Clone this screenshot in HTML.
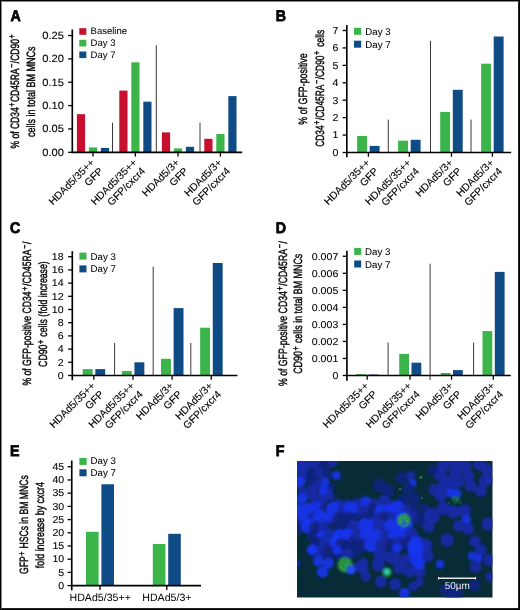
<!DOCTYPE html>
<html><head><meta charset="utf-8"><style>
html,body{margin:0;padding:0;background:#fff;}
body{width:520px;height:610px;position:relative;overflow:hidden;font-family:"Liberation Sans", sans-serif;}
.frame{position:absolute;left:0;top:0;width:518px;height:608px;border:1px solid #000;}
.frame2{position:absolute;left:1px;top:1px;width:516px;height:606px;border-style:solid;border-width:1px;border-color:#888 #222 #222 #888;}
</style></head><body>
<svg width="520" height="610" viewBox="0 0 520 610" style="position:absolute;left:0;top:0;will-change:transform"><g font-family='"Liberation Sans", sans-serif' fill="#000" text-rendering="geometricPrecision"><g transform="translate(10.40,20.75) scale(0.92,1)"><text x="0.00" y="0.00" font-size="15.5" font-weight="bold" stroke="#000" stroke-width="0.75">A</text></g><line x1="72.30" y1="29.50" x2="72.30" y2="153.05" stroke="#000" stroke-width="1.65"/><line x1="68.10" y1="152.30" x2="72.30" y2="152.30" stroke="#000" stroke-width="1.3"/><text x="63.90" y="155.80" font-size="10.5" text-anchor="end" textLength="21.66" lengthAdjust="spacingAndGlyphs" stroke="#000" stroke-width="0.1">0.00</text><line x1="68.10" y1="128.94" x2="72.30" y2="128.94" stroke="#000" stroke-width="1.3"/><text x="63.90" y="132.44" font-size="10.5" text-anchor="end" textLength="21.66" lengthAdjust="spacingAndGlyphs" stroke="#000" stroke-width="0.1">0.05</text><line x1="68.10" y1="105.58" x2="72.30" y2="105.58" stroke="#000" stroke-width="1.3"/><text x="63.90" y="109.08" font-size="10.5" text-anchor="end" textLength="21.66" lengthAdjust="spacingAndGlyphs" stroke="#000" stroke-width="0.1">0.10</text><line x1="68.10" y1="82.22" x2="72.30" y2="82.22" stroke="#000" stroke-width="1.3"/><text x="63.90" y="85.72" font-size="10.5" text-anchor="end" textLength="21.66" lengthAdjust="spacingAndGlyphs" stroke="#000" stroke-width="0.1">0.15</text><line x1="68.10" y1="58.86" x2="72.30" y2="58.86" stroke="#000" stroke-width="1.3"/><text x="63.90" y="62.36" font-size="10.5" text-anchor="end" textLength="21.66" lengthAdjust="spacingAndGlyphs" stroke="#000" stroke-width="0.1">0.20</text><line x1="68.10" y1="35.50" x2="72.30" y2="35.50" stroke="#000" stroke-width="1.3"/><text x="63.90" y="39.00" font-size="10.5" text-anchor="end" textLength="21.66" lengthAdjust="spacingAndGlyphs" stroke="#000" stroke-width="0.1">0.25</text><rect x="76.90" y="114.20" width="8.20" height="38.10" fill="#C8102E"/><rect x="88.90" y="147.40" width="8.20" height="4.90" fill="#3BB54A"/><rect x="100.90" y="147.90" width="8.20" height="4.40" fill="#0F4C85"/><rect x="119.30" y="90.60" width="8.20" height="61.70" fill="#C8102E"/><rect x="131.30" y="62.30" width="8.20" height="90.00" fill="#3BB54A"/><rect x="143.30" y="101.70" width="8.20" height="50.60" fill="#0F4C85"/><rect x="161.90" y="132.40" width="8.20" height="19.90" fill="#C8102E"/><rect x="173.90" y="148.40" width="8.20" height="3.90" fill="#3BB54A"/><rect x="185.90" y="146.80" width="8.20" height="5.50" fill="#0F4C85"/><rect x="204.30" y="138.80" width="8.20" height="13.50" fill="#C8102E"/><rect x="216.30" y="134.00" width="8.20" height="18.30" fill="#3BB54A"/><rect x="228.30" y="96.10" width="8.20" height="56.20" fill="#0F4C85"/><line x1="112.50" y1="122.70" x2="112.50" y2="152.30" stroke="#3a3a3a" stroke-width="1"/><line x1="156.30" y1="45.20" x2="156.30" y2="152.30" stroke="#3a3a3a" stroke-width="1"/><line x1="200.00" y1="122.80" x2="200.00" y2="152.30" stroke="#3a3a3a" stroke-width="1"/><line x1="71.55" y1="152.30" x2="242.20" y2="152.30" stroke="#000" stroke-width="1.65"/><line x1="93.00" y1="152.30" x2="93.00" y2="156.60" stroke="#000" stroke-width="1.3"/><line x1="135.40" y1="152.30" x2="135.40" y2="156.60" stroke="#000" stroke-width="1.3"/><line x1="178.00" y1="152.30" x2="178.00" y2="156.60" stroke="#000" stroke-width="1.3"/><line x1="220.40" y1="152.30" x2="220.40" y2="156.60" stroke="#000" stroke-width="1.3"/><rect x="79.30" y="28.20" width="7.00" height="6.60" fill="#C8102E"/><text x="90.60" y="33.90" font-size="9.5" stroke="#000" stroke-width="0.05">Baseline</text><rect x="79.30" y="39.85" width="7.00" height="6.60" fill="#3BB54A"/><text x="90.60" y="46.10" font-size="9.5" stroke="#000" stroke-width="0.05">Day 3</text><rect x="79.30" y="51.50" width="7.00" height="6.60" fill="#0F4C85"/><text x="90.60" y="58.30" font-size="9.5" stroke="#000" stroke-width="0.05">Day 7</text><g transform="translate(95.00,163.30) rotate(-45)"><text x="0.00" y="0.00" font-size="10.3" text-anchor="end" stroke="#000" stroke-width="0.12">HDAd5/35++</text><text x="0.00" y="12.00" font-size="10.3" text-anchor="end" stroke="#000" stroke-width="0.12">GFP</text></g><g transform="translate(137.40,163.30) rotate(-45)"><text x="0.00" y="0.00" font-size="10.3" text-anchor="end" stroke="#000" stroke-width="0.12">HDAd5/35++</text><text x="0.00" y="12.00" font-size="10.3" text-anchor="end" stroke="#000" stroke-width="0.12">GFP/cxcr4</text></g><g transform="translate(180.00,163.30) rotate(-45)"><text x="0.00" y="0.00" font-size="10.3" text-anchor="end" stroke="#000" stroke-width="0.12">HDAd5/3+</text><text x="0.00" y="12.00" font-size="10.3" text-anchor="end" stroke="#000" stroke-width="0.12">GFP</text></g><g transform="translate(222.40,163.30) rotate(-45)"><text x="0.00" y="0.00" font-size="10.3" text-anchor="end" stroke="#000" stroke-width="0.12">HDAd5/3+</text><text x="0.00" y="12.00" font-size="10.3" text-anchor="end" stroke="#000" stroke-width="0.12">GFP/cxcr4</text></g><g transform="translate(18.60,148.50) rotate(-90)"><text x="0.00" y="0.00" font-size="12" textLength="114.20" lengthAdjust="spacingAndGlyphs" stroke="#000" stroke-width="0.4">% of CD34<tspan dy="-3.3" dx="0.8" font-size="10">+</tspan><tspan dy="3.3" dx="0.8">CD45RA</tspan><tspan dy="-3.3" dx="0.8" font-size="10">−</tspan><tspan dy="3.3" dx="0.8">/CD90</tspan><tspan dy="-3.3" dx="0.8" font-size="10">+</tspan></text></g><g transform="translate(34.60,137.00) rotate(-90)"><text x="0.00" y="0.00" font-size="12" textLength="90.60" lengthAdjust="spacingAndGlyphs" stroke="#000" stroke-width="0.4">cells in total BM MNCs</text></g><g transform="translate(275.70,20.75) scale(0.92,1)"><text x="0.00" y="0.00" font-size="15.5" font-weight="bold" stroke="#000" stroke-width="0.75">B</text></g><line x1="346.80" y1="25.10" x2="346.80" y2="157.25" stroke="#000" stroke-width="1.65"/><line x1="342.60" y1="152.50" x2="346.80" y2="152.50" stroke="#000" stroke-width="1.3"/><text x="338.30" y="155.80" font-size="10.0" text-anchor="end" textLength="5.89" lengthAdjust="spacingAndGlyphs" stroke="#000" stroke-width="0.1">0</text><line x1="342.60" y1="135.07" x2="346.80" y2="135.07" stroke="#000" stroke-width="1.3"/><text x="338.30" y="138.37" font-size="10.0" text-anchor="end" textLength="5.89" lengthAdjust="spacingAndGlyphs" stroke="#000" stroke-width="0.1">1</text><line x1="342.60" y1="117.64" x2="346.80" y2="117.64" stroke="#000" stroke-width="1.3"/><text x="338.30" y="120.94" font-size="10.0" text-anchor="end" textLength="5.89" lengthAdjust="spacingAndGlyphs" stroke="#000" stroke-width="0.1">2</text><line x1="342.60" y1="100.21" x2="346.80" y2="100.21" stroke="#000" stroke-width="1.3"/><text x="338.30" y="103.51" font-size="10.0" text-anchor="end" textLength="5.89" lengthAdjust="spacingAndGlyphs" stroke="#000" stroke-width="0.1">3</text><line x1="342.60" y1="82.79" x2="346.80" y2="82.79" stroke="#000" stroke-width="1.3"/><text x="338.30" y="86.09" font-size="10.0" text-anchor="end" textLength="5.89" lengthAdjust="spacingAndGlyphs" stroke="#000" stroke-width="0.1">4</text><line x1="342.60" y1="65.36" x2="346.80" y2="65.36" stroke="#000" stroke-width="1.3"/><text x="338.30" y="68.66" font-size="10.0" text-anchor="end" textLength="5.89" lengthAdjust="spacingAndGlyphs" stroke="#000" stroke-width="0.1">5</text><line x1="342.60" y1="47.93" x2="346.80" y2="47.93" stroke="#000" stroke-width="1.3"/><text x="338.30" y="51.23" font-size="10.0" text-anchor="end" textLength="5.89" lengthAdjust="spacingAndGlyphs" stroke="#000" stroke-width="0.1">6</text><line x1="342.60" y1="30.50" x2="346.80" y2="30.50" stroke="#000" stroke-width="1.3"/><text x="338.30" y="33.80" font-size="10.0" text-anchor="end" textLength="5.89" lengthAdjust="spacingAndGlyphs" stroke="#000" stroke-width="0.1">7</text><rect x="357.10" y="136.00" width="9.90" height="16.50" fill="#3BB54A"/><rect x="369.70" y="145.90" width="9.90" height="6.60" fill="#0F4C85"/><rect x="398.10" y="140.70" width="9.90" height="11.80" fill="#3BB54A"/><rect x="410.70" y="139.80" width="9.90" height="12.70" fill="#0F4C85"/><rect x="440.20" y="111.90" width="9.90" height="40.60" fill="#3BB54A"/><rect x="452.80" y="89.80" width="9.90" height="62.70" fill="#0F4C85"/><rect x="481.10" y="63.70" width="9.90" height="88.80" fill="#3BB54A"/><rect x="493.70" y="36.50" width="9.90" height="116.00" fill="#0F4C85"/><line x1="388.30" y1="119.60" x2="388.30" y2="152.50" stroke="#3a3a3a" stroke-width="1"/><line x1="430.50" y1="40.90" x2="430.50" y2="152.50" stroke="#3a3a3a" stroke-width="1"/><line x1="471.00" y1="119.60" x2="471.00" y2="152.50" stroke="#3a3a3a" stroke-width="1"/><line x1="346.05" y1="152.50" x2="511.20" y2="152.50" stroke="#000" stroke-width="1.65"/><line x1="368.40" y1="152.50" x2="368.40" y2="156.80" stroke="#000" stroke-width="1.3"/><line x1="409.40" y1="152.50" x2="409.40" y2="156.80" stroke="#000" stroke-width="1.3"/><line x1="451.50" y1="152.50" x2="451.50" y2="156.80" stroke="#000" stroke-width="1.3"/><line x1="492.40" y1="152.50" x2="492.40" y2="156.80" stroke="#000" stroke-width="1.3"/><rect x="354.00" y="27.80" width="7.20" height="7.00" fill="#3BB54A"/><text x="365.30" y="34.80" font-size="9.7" stroke="#000" stroke-width="0.05">Day 3</text><rect x="354.00" y="40.70" width="7.20" height="7.00" fill="#0F4C85"/><text x="365.30" y="47.70" font-size="9.7" stroke="#000" stroke-width="0.05">Day 7</text><g transform="translate(370.40,163.50) rotate(-45)"><text x="0.00" y="0.00" font-size="10.3" text-anchor="end" stroke="#000" stroke-width="0.12">HDAd5/35++</text><text x="0.00" y="12.00" font-size="10.3" text-anchor="end" stroke="#000" stroke-width="0.12">GFP</text></g><g transform="translate(411.40,163.50) rotate(-45)"><text x="0.00" y="0.00" font-size="10.3" text-anchor="end" stroke="#000" stroke-width="0.12">HDAd5/35++</text><text x="0.00" y="12.00" font-size="10.3" text-anchor="end" stroke="#000" stroke-width="0.12">GFP/cxcr4</text></g><g transform="translate(453.50,163.50) rotate(-45)"><text x="0.00" y="0.00" font-size="10.3" text-anchor="end" stroke="#000" stroke-width="0.12">HDAd5/3+</text><text x="0.00" y="12.00" font-size="10.3" text-anchor="end" stroke="#000" stroke-width="0.12">GFP</text></g><g transform="translate(494.40,163.50) rotate(-45)"><text x="0.00" y="0.00" font-size="10.3" text-anchor="end" stroke="#000" stroke-width="0.12">HDAd5/3+</text><text x="0.00" y="12.00" font-size="10.3" text-anchor="end" stroke="#000" stroke-width="0.12">GFP/cxcr4</text></g><g transform="translate(307.30,124.70) rotate(-90)"><text x="0.00" y="0.00" font-size="12" textLength="71.40" lengthAdjust="spacingAndGlyphs" stroke="#000" stroke-width="0.4">% of GFP-positive</text></g><g transform="translate(323.50,146.80) rotate(-90)"><text x="0.00" y="0.00" font-size="12" textLength="116.90" lengthAdjust="spacingAndGlyphs" stroke="#000" stroke-width="0.4">CD34<tspan dy="-3.3" dx="0.8" font-size="10">+</tspan><tspan dy="3.3" dx="0.8">/CD45RA</tspan><tspan dy="-3.3" dx="0.8" font-size="10">−</tspan><tspan dy="3.3" dx="0.8">/CD90</tspan><tspan dy="-3.3" dx="0.8" font-size="10">+</tspan><tspan dy="3.3" dx="2.5"> cells</tspan></text></g><g transform="translate(10.10,233.05) scale(0.92,1)"><text x="0.00" y="0.00" font-size="15.5" font-weight="bold" stroke="#000" stroke-width="0.75">C</text></g><line x1="72.30" y1="251.20" x2="72.30" y2="380.25" stroke="#000" stroke-width="1.65"/><line x1="68.10" y1="375.50" x2="72.30" y2="375.50" stroke="#000" stroke-width="1.3"/><text x="63.60" y="378.80" font-size="10.0" text-anchor="end" textLength="5.89" lengthAdjust="spacingAndGlyphs" stroke="#000" stroke-width="0.1">0</text><line x1="68.10" y1="362.30" x2="72.30" y2="362.30" stroke="#000" stroke-width="1.3"/><text x="63.60" y="365.60" font-size="10.0" text-anchor="end" textLength="5.89" lengthAdjust="spacingAndGlyphs" stroke="#000" stroke-width="0.1">2</text><line x1="68.10" y1="349.10" x2="72.30" y2="349.10" stroke="#000" stroke-width="1.3"/><text x="63.60" y="352.40" font-size="10.0" text-anchor="end" textLength="5.89" lengthAdjust="spacingAndGlyphs" stroke="#000" stroke-width="0.1">4</text><line x1="68.10" y1="335.90" x2="72.30" y2="335.90" stroke="#000" stroke-width="1.3"/><text x="63.60" y="339.20" font-size="10.0" text-anchor="end" textLength="5.89" lengthAdjust="spacingAndGlyphs" stroke="#000" stroke-width="0.1">6</text><line x1="68.10" y1="322.70" x2="72.30" y2="322.70" stroke="#000" stroke-width="1.3"/><text x="63.60" y="326.00" font-size="10.0" text-anchor="end" textLength="5.89" lengthAdjust="spacingAndGlyphs" stroke="#000" stroke-width="0.1">8</text><line x1="68.10" y1="309.50" x2="72.30" y2="309.50" stroke="#000" stroke-width="1.3"/><text x="63.60" y="312.80" font-size="10.0" text-anchor="end" textLength="11.79" lengthAdjust="spacingAndGlyphs" stroke="#000" stroke-width="0.1">10</text><line x1="68.10" y1="296.30" x2="72.30" y2="296.30" stroke="#000" stroke-width="1.3"/><text x="63.60" y="299.60" font-size="10.0" text-anchor="end" textLength="11.79" lengthAdjust="spacingAndGlyphs" stroke="#000" stroke-width="0.1">12</text><line x1="68.10" y1="283.10" x2="72.30" y2="283.10" stroke="#000" stroke-width="1.3"/><text x="63.60" y="286.40" font-size="10.0" text-anchor="end" textLength="11.79" lengthAdjust="spacingAndGlyphs" stroke="#000" stroke-width="0.1">14</text><line x1="68.10" y1="269.90" x2="72.30" y2="269.90" stroke="#000" stroke-width="1.3"/><text x="63.60" y="273.20" font-size="10.0" text-anchor="end" textLength="11.79" lengthAdjust="spacingAndGlyphs" stroke="#000" stroke-width="0.1">16</text><line x1="68.10" y1="256.70" x2="72.30" y2="256.70" stroke="#000" stroke-width="1.3"/><text x="63.60" y="260.00" font-size="10.0" text-anchor="end" textLength="11.79" lengthAdjust="spacingAndGlyphs" stroke="#000" stroke-width="0.1">18</text><rect x="82.70" y="369.10" width="9.90" height="6.40" fill="#3BB54A"/><rect x="95.30" y="369.10" width="9.90" height="6.40" fill="#0F4C85"/><rect x="121.85" y="371.00" width="9.90" height="4.50" fill="#3BB54A"/><rect x="134.45" y="362.30" width="9.90" height="13.20" fill="#0F4C85"/><rect x="161.00" y="358.80" width="9.90" height="16.70" fill="#3BB54A"/><rect x="173.60" y="308.10" width="9.90" height="67.40" fill="#0F4C85"/><rect x="200.15" y="327.70" width="9.90" height="47.80" fill="#3BB54A"/><rect x="212.75" y="263.00" width="9.90" height="112.50" fill="#0F4C85"/><line x1="114.60" y1="343.00" x2="114.60" y2="375.50" stroke="#3a3a3a" stroke-width="1"/><line x1="153.20" y1="266.60" x2="153.20" y2="375.50" stroke="#3a3a3a" stroke-width="1"/><line x1="190.80" y1="342.90" x2="190.80" y2="375.50" stroke="#3a3a3a" stroke-width="1"/><line x1="71.55" y1="375.50" x2="237.50" y2="375.50" stroke="#000" stroke-width="1.65"/><line x1="93.80" y1="375.50" x2="93.80" y2="379.80" stroke="#000" stroke-width="1.3"/><line x1="132.95" y1="375.50" x2="132.95" y2="379.80" stroke="#000" stroke-width="1.3"/><line x1="172.10" y1="375.50" x2="172.10" y2="379.80" stroke="#000" stroke-width="1.3"/><line x1="211.25" y1="375.50" x2="211.25" y2="379.80" stroke="#000" stroke-width="1.3"/><rect x="79.40" y="252.60" width="7.10" height="7.00" fill="#3BB54A"/><text x="90.50" y="259.50" font-size="9.7" stroke="#000" stroke-width="0.05">Day 3</text><rect x="79.40" y="265.40" width="7.10" height="7.00" fill="#0F4C85"/><text x="90.50" y="272.40" font-size="9.7" stroke="#000" stroke-width="0.05">Day 7</text><g transform="translate(95.80,386.50) rotate(-45)"><text x="0.00" y="0.00" font-size="10.3" text-anchor="end" stroke="#000" stroke-width="0.12">HDAd5/35++</text><text x="0.00" y="12.00" font-size="10.3" text-anchor="end" stroke="#000" stroke-width="0.12">GFP</text></g><g transform="translate(134.95,386.50) rotate(-45)"><text x="0.00" y="0.00" font-size="10.3" text-anchor="end" stroke="#000" stroke-width="0.12">HDAd5/35++</text><text x="0.00" y="12.00" font-size="10.3" text-anchor="end" stroke="#000" stroke-width="0.12">GFP/cxcr4</text></g><g transform="translate(174.10,386.50) rotate(-45)"><text x="0.00" y="0.00" font-size="10.3" text-anchor="end" stroke="#000" stroke-width="0.12">HDAd5/3+</text><text x="0.00" y="12.00" font-size="10.3" text-anchor="end" stroke="#000" stroke-width="0.12">GFP</text></g><g transform="translate(213.25,386.50) rotate(-45)"><text x="0.00" y="0.00" font-size="10.3" text-anchor="end" stroke="#000" stroke-width="0.12">HDAd5/3+</text><text x="0.00" y="12.00" font-size="10.3" text-anchor="end" stroke="#000" stroke-width="0.12">GFP/cxcr4</text></g><g transform="translate(31.30,385.60) rotate(-90)"><text x="0.00" y="0.00" font-size="12" textLength="144.00" lengthAdjust="spacingAndGlyphs" stroke="#000" stroke-width="0.4">% of GFP-positive CD34<tspan dy="-3.3" dx="0.8" font-size="10">+</tspan><tspan dy="3.3" dx="0.8">/CD45RA</tspan><tspan dy="-3.3" dx="0.8" font-size="10">−</tspan><tspan dy="3.3" dx="0.8">/</tspan></text></g><g transform="translate(47.00,366.90) rotate(-90)"><text x="0.00" y="0.00" font-size="12" textLength="105.70" lengthAdjust="spacingAndGlyphs" stroke="#000" stroke-width="0.4">CD90<tspan dy="-3.3" dx="0.8" font-size="10">+</tspan><tspan dy="3.3" dx="0.8"> cells (fold increase)</tspan></text></g><g transform="translate(275.70,232.85) scale(0.92,1)"><text x="0.00" y="0.00" font-size="15.5" font-weight="bold" stroke="#000" stroke-width="0.75">D</text></g><line x1="346.90" y1="250.75" x2="346.90" y2="380.75" stroke="#000" stroke-width="1.65"/><line x1="342.70" y1="375.50" x2="346.90" y2="375.50" stroke="#000" stroke-width="1.3"/><text x="338.30" y="378.80" font-size="10.0" text-anchor="end" textLength="5.89" lengthAdjust="spacingAndGlyphs" stroke="#000" stroke-width="0.1">0</text><line x1="342.70" y1="358.46" x2="346.90" y2="358.46" stroke="#000" stroke-width="1.3"/><text x="338.30" y="361.76" font-size="10.0" text-anchor="end" textLength="26.52" lengthAdjust="spacingAndGlyphs" stroke="#000" stroke-width="0.1">0.001</text><line x1="342.70" y1="341.43" x2="346.90" y2="341.43" stroke="#000" stroke-width="1.3"/><text x="338.30" y="344.73" font-size="10.0" text-anchor="end" textLength="26.52" lengthAdjust="spacingAndGlyphs" stroke="#000" stroke-width="0.1">0.002</text><line x1="342.70" y1="324.39" x2="346.90" y2="324.39" stroke="#000" stroke-width="1.3"/><text x="338.30" y="327.69" font-size="10.0" text-anchor="end" textLength="26.52" lengthAdjust="spacingAndGlyphs" stroke="#000" stroke-width="0.1">0.003</text><line x1="342.70" y1="307.36" x2="346.90" y2="307.36" stroke="#000" stroke-width="1.3"/><text x="338.30" y="310.66" font-size="10.0" text-anchor="end" textLength="26.52" lengthAdjust="spacingAndGlyphs" stroke="#000" stroke-width="0.1">0.004</text><line x1="342.70" y1="290.32" x2="346.90" y2="290.32" stroke="#000" stroke-width="1.3"/><text x="338.30" y="293.62" font-size="10.0" text-anchor="end" textLength="26.52" lengthAdjust="spacingAndGlyphs" stroke="#000" stroke-width="0.1">0.005</text><line x1="342.70" y1="273.29" x2="346.90" y2="273.29" stroke="#000" stroke-width="1.3"/><text x="338.30" y="276.59" font-size="10.0" text-anchor="end" textLength="26.52" lengthAdjust="spacingAndGlyphs" stroke="#000" stroke-width="0.1">0.006</text><line x1="342.70" y1="256.25" x2="346.90" y2="256.25" stroke="#000" stroke-width="1.3"/><text x="338.30" y="259.55" font-size="10.0" text-anchor="end" textLength="26.52" lengthAdjust="spacingAndGlyphs" stroke="#000" stroke-width="0.1">0.007</text><rect x="356.40" y="374.10" width="9.80" height="1.40" fill="#3BB54A"/><rect x="368.70" y="374.50" width="9.80" height="1.00" fill="#0F4C85"/><rect x="399.20" y="353.90" width="9.80" height="21.60" fill="#3BB54A"/><rect x="411.50" y="362.70" width="9.80" height="12.80" fill="#0F4C85"/><rect x="440.70" y="373.00" width="9.80" height="2.50" fill="#3BB54A"/><rect x="453.00" y="370.10" width="9.80" height="5.40" fill="#0F4C85"/><rect x="482.50" y="331.10" width="9.80" height="44.40" fill="#3BB54A"/><rect x="494.80" y="271.90" width="9.80" height="103.60" fill="#0F4C85"/><line x1="388.10" y1="342.50" x2="388.10" y2="375.50" stroke="#3a3a3a" stroke-width="1"/><line x1="430.10" y1="263.70" x2="430.10" y2="380.00" stroke="#3a3a3a" stroke-width="1"/><line x1="473.60" y1="342.60" x2="473.60" y2="375.50" stroke="#3a3a3a" stroke-width="1"/><line x1="346.15" y1="375.50" x2="510.70" y2="375.50" stroke="#000" stroke-width="1.65"/><line x1="367.20" y1="375.50" x2="367.20" y2="379.80" stroke="#000" stroke-width="1.3"/><line x1="410.00" y1="375.50" x2="410.00" y2="379.80" stroke="#000" stroke-width="1.3"/><line x1="451.50" y1="375.50" x2="451.50" y2="379.80" stroke="#000" stroke-width="1.3"/><line x1="493.30" y1="375.50" x2="493.30" y2="379.80" stroke="#000" stroke-width="1.3"/><rect x="354.20" y="247.90" width="7.00" height="7.00" fill="#3BB54A"/><text x="365.00" y="254.80" font-size="9.7" stroke="#000" stroke-width="0.05">Day 3</text><rect x="354.20" y="260.50" width="7.00" height="7.00" fill="#0F4C85"/><text x="365.00" y="267.60" font-size="9.7" stroke="#000" stroke-width="0.05">Day 7</text><g transform="translate(369.20,386.50) rotate(-45)"><text x="0.00" y="0.00" font-size="10.3" text-anchor="end" stroke="#000" stroke-width="0.12">HDAd5/35++</text><text x="0.00" y="12.00" font-size="10.3" text-anchor="end" stroke="#000" stroke-width="0.12">GFP</text></g><g transform="translate(412.00,386.50) rotate(-45)"><text x="0.00" y="0.00" font-size="10.3" text-anchor="end" stroke="#000" stroke-width="0.12">HDAd5/35++</text><text x="0.00" y="12.00" font-size="10.3" text-anchor="end" stroke="#000" stroke-width="0.12">GFP/cxcr4</text></g><g transform="translate(453.50,386.50) rotate(-45)"><text x="0.00" y="0.00" font-size="10.3" text-anchor="end" stroke="#000" stroke-width="0.12">HDAd5/3+</text><text x="0.00" y="12.00" font-size="10.3" text-anchor="end" stroke="#000" stroke-width="0.12">GFP</text></g><g transform="translate(495.30,386.50) rotate(-45)"><text x="0.00" y="0.00" font-size="10.3" text-anchor="end" stroke="#000" stroke-width="0.12">HDAd5/3+</text><text x="0.00" y="12.00" font-size="10.3" text-anchor="end" stroke="#000" stroke-width="0.12">GFP/cxcr4</text></g><g transform="translate(286.50,386.00) rotate(-90)"><text x="0.00" y="0.00" font-size="12" textLength="144.90" lengthAdjust="spacingAndGlyphs" stroke="#000" stroke-width="0.4">% of GFP-positive CD34<tspan dy="-3.3" dx="0.8" font-size="10">+</tspan><tspan dy="3.3" dx="0.8">/CD45RA</tspan><tspan dy="-3.3" dx="0.8" font-size="10">−</tspan><tspan dy="3.3" dx="0.8">/</tspan></text></g><g transform="translate(302.00,373.80) rotate(-90)"><text x="0.00" y="0.00" font-size="12" textLength="120.10" lengthAdjust="spacingAndGlyphs" stroke="#000" stroke-width="0.4">CD90<tspan dy="-3.3" dx="0.8" font-size="10">+</tspan><tspan dy="3.3" dx="0.8"> cells in total BM MNCs</tspan></text></g><g transform="translate(10.00,456.25) scale(0.92,1)"><text x="0.00" y="0.00" font-size="15.5" font-weight="bold" stroke="#000" stroke-width="0.75">E</text></g><line x1="71.75" y1="460.50" x2="71.75" y2="590.35" stroke="#000" stroke-width="1.65"/><line x1="67.55" y1="585.60" x2="71.75" y2="585.60" stroke="#000" stroke-width="1.3"/><text x="64.20" y="588.90" font-size="10.0" text-anchor="end" textLength="5.89" lengthAdjust="spacingAndGlyphs" stroke="#000" stroke-width="0.1">0</text><line x1="67.55" y1="572.39" x2="71.75" y2="572.39" stroke="#000" stroke-width="1.3"/><text x="64.20" y="575.69" font-size="10.0" text-anchor="end" textLength="5.89" lengthAdjust="spacingAndGlyphs" stroke="#000" stroke-width="0.1">5</text><line x1="67.55" y1="559.19" x2="71.75" y2="559.19" stroke="#000" stroke-width="1.3"/><text x="64.20" y="562.49" font-size="10.0" text-anchor="end" textLength="11.79" lengthAdjust="spacingAndGlyphs" stroke="#000" stroke-width="0.1">10</text><line x1="67.55" y1="545.98" x2="71.75" y2="545.98" stroke="#000" stroke-width="1.3"/><text x="64.20" y="549.28" font-size="10.0" text-anchor="end" textLength="11.79" lengthAdjust="spacingAndGlyphs" stroke="#000" stroke-width="0.1">15</text><line x1="67.55" y1="532.78" x2="71.75" y2="532.78" stroke="#000" stroke-width="1.3"/><text x="64.20" y="536.08" font-size="10.0" text-anchor="end" textLength="11.79" lengthAdjust="spacingAndGlyphs" stroke="#000" stroke-width="0.1">20</text><line x1="67.55" y1="519.57" x2="71.75" y2="519.57" stroke="#000" stroke-width="1.3"/><text x="64.20" y="522.87" font-size="10.0" text-anchor="end" textLength="11.79" lengthAdjust="spacingAndGlyphs" stroke="#000" stroke-width="0.1">25</text><line x1="67.55" y1="506.37" x2="71.75" y2="506.37" stroke="#000" stroke-width="1.3"/><text x="64.20" y="509.67" font-size="10.0" text-anchor="end" textLength="11.79" lengthAdjust="spacingAndGlyphs" stroke="#000" stroke-width="0.1">30</text><line x1="67.55" y1="493.16" x2="71.75" y2="493.16" stroke="#000" stroke-width="1.3"/><text x="64.20" y="496.46" font-size="10.0" text-anchor="end" textLength="11.79" lengthAdjust="spacingAndGlyphs" stroke="#000" stroke-width="0.1">35</text><line x1="67.55" y1="479.96" x2="71.75" y2="479.96" stroke="#000" stroke-width="1.3"/><text x="64.20" y="483.26" font-size="10.0" text-anchor="end" textLength="11.79" lengthAdjust="spacingAndGlyphs" stroke="#000" stroke-width="0.1">40</text><line x1="67.55" y1="466.75" x2="71.75" y2="466.75" stroke="#000" stroke-width="1.3"/><text x="64.20" y="470.05" font-size="10.0" text-anchor="end" textLength="11.79" lengthAdjust="spacingAndGlyphs" stroke="#000" stroke-width="0.1">45</text><rect x="86.00" y="531.75" width="12.60" height="53.85" fill="#3BB54A"/><rect x="101.40" y="484.25" width="12.60" height="101.35" fill="#0F4C85"/><rect x="152.80" y="544.00" width="12.60" height="41.60" fill="#3BB54A"/><rect x="168.20" y="533.80" width="12.60" height="51.80" fill="#0F4C85"/><line x1="71.00" y1="585.60" x2="201.00" y2="585.60" stroke="#000" stroke-width="1.65"/><line x1="100.00" y1="585.60" x2="100.00" y2="589.90" stroke="#000" stroke-width="1.3"/><line x1="166.80" y1="585.60" x2="166.80" y2="589.90" stroke="#000" stroke-width="1.3"/><rect x="79.40" y="457.90" width="7.20" height="7.00" fill="#3BB54A"/><text x="90.50" y="464.40" font-size="9.7" stroke="#000" stroke-width="0.05">Day 3</text><rect x="79.40" y="469.30" width="7.20" height="7.00" fill="#0F4C85"/><text x="90.50" y="476.00" font-size="9.7" stroke="#000" stroke-width="0.05">Day 7</text><text x="100.20" y="601.00" font-size="10.6" text-anchor="middle" stroke="#000" stroke-width="0">HDAd5/35++</text><text x="166.90" y="601.00" font-size="10.6" text-anchor="middle" stroke="#000" stroke-width="0">HDAd5/3+</text><g transform="translate(28.00,574.00) rotate(-90)"><text x="0.00" y="0.00" font-size="12" textLength="98.70" lengthAdjust="spacingAndGlyphs" stroke="#000" stroke-width="0.4">GFP<tspan dy="-3.3" dx="0.8" font-size="10">+</tspan><tspan dy="3.3" dx="0.8"> HSCs in BM MNCs</tspan></text></g><g transform="translate(44.00,568.20) rotate(-90)"><text x="0.00" y="0.00" font-size="12" textLength="86.10" lengthAdjust="spacingAndGlyphs" stroke="#000" stroke-width="0.4">fold increase by cxcr4</text></g><g transform="translate(275.70,456.25) scale(0.92,1)"><text x="0.00" y="0.00" font-size="15.5" font-weight="bold" stroke="#000" stroke-width="0.75">F</text></g><defs><clipPath id="fclip"><rect x="297" y="461" width="195.5" height="136.5"/></clipPath><filter id="fb" x="-5%" y="-5%" width="110%" height="110%"><feGaussianBlur stdDeviation="1.2"/></filter><filter id="fb2" x="-50%" y="-50%" width="200%" height="200%"><feGaussianBlur stdDeviation="0.6"/></filter></defs><rect x="297" y="461" width="195.5" height="136.5" fill="#072C37"/><g clip-path="url(#fclip)"><g filter="url(#fb)"><circle cx="300.0" cy="466.0" r="7.1" fill="#162AAA" fill-opacity="0.9"/><circle cx="304.5" cy="466.0" r="6.0" fill="#162AAA" fill-opacity="0.9"/><circle cx="317.0" cy="463.5" r="6.0" fill="#162AAA" fill-opacity="0.9"/><circle cx="332.0" cy="462.3" r="5.4" fill="#162AAA" fill-opacity="0.9"/><circle cx="310.0" cy="462.0" r="6.0" fill="#162AAA" fill-opacity="0.9"/><circle cx="324.0" cy="466.0" r="6.0" fill="#122380" fill-opacity="0.9"/><circle cx="302.0" cy="474.7" r="6.0" fill="#162AAA" fill-opacity="0.9"/><circle cx="312.0" cy="474.0" r="6.0" fill="#122380" fill-opacity="0.9"/><circle cx="319.5" cy="473.5" r="4.9" fill="#162AAA" fill-opacity="0.9"/><circle cx="327.0" cy="474.0" r="4.9" fill="#122380" fill-opacity="0.9"/><circle cx="300.0" cy="482.0" r="5.4" fill="#1A34EE" fill-opacity="0.9"/><circle cx="312.0" cy="479.8" r="6.6" fill="#122380" fill-opacity="0.9"/><circle cx="324.5" cy="482.3" r="4.9" fill="#1A34EE" fill-opacity="0.9"/><circle cx="318.0" cy="486.0" r="6.0" fill="#162AAA" fill-opacity="0.9"/><circle cx="309.5" cy="492.3" r="6.6" fill="#162AAA" fill-opacity="0.9"/><circle cx="325.7" cy="491.0" r="6.6" fill="#1A34EE" fill-opacity="0.9"/><circle cx="302.0" cy="491.0" r="4.3" fill="#162AAA" fill-opacity="0.9"/><circle cx="331.0" cy="487.0" r="3.8" fill="#122380" fill-opacity="0.9"/><circle cx="302.0" cy="498.5" r="5.4" fill="#1A34EE" fill-opacity="0.9"/><circle cx="315.8" cy="498.5" r="6.0" fill="#162AAA" fill-opacity="0.9"/><circle cx="322.0" cy="501.0" r="5.4" fill="#162AAA" fill-opacity="0.9"/><circle cx="329.5" cy="496.0" r="4.9" fill="#162AAA" fill-opacity="0.9"/><circle cx="336.4" cy="475.4" r="4.4" fill="#1A34EE" fill-opacity="0.9"/><circle cx="338.0" cy="504.0" r="5.4" fill="#162AAA" fill-opacity="0.9"/><circle cx="347.0" cy="504.8" r="5.4" fill="#162AAA" fill-opacity="0.9"/><circle cx="357.0" cy="503.5" r="5.4" fill="#162AAA" fill-opacity="0.9"/><circle cx="379.5" cy="485.4" r="6.7" fill="#122380" fill-opacity="0.9"/><circle cx="388.3" cy="490.4" r="6.0" fill="#122380" fill-opacity="0.9"/><circle cx="402.0" cy="478.0" r="6.0" fill="#122380" fill-opacity="0.9"/><circle cx="410.8" cy="475.4" r="4.3" fill="#162AAA" fill-opacity="0.9"/><circle cx="412.6" cy="482.9" r="4.0" fill="#1A34EE" fill-opacity="0.9"/><circle cx="408.3" cy="489.0" r="6.0" fill="#122380" fill-opacity="0.9"/><circle cx="384.5" cy="500.4" r="6.0" fill="#162AAA" fill-opacity="0.9"/><circle cx="403.3" cy="501.0" r="6.7" fill="#122380" fill-opacity="0.9"/><circle cx="414.5" cy="498.5" r="6.0" fill="#122380" fill-opacity="0.9"/><circle cx="365.8" cy="502.3" r="6.0" fill="#1A34EE" fill-opacity="0.9"/><circle cx="374.5" cy="504.8" r="6.0" fill="#162AAA" fill-opacity="0.9"/><circle cx="393.0" cy="506.0" r="6.0" fill="#162AAA" fill-opacity="0.9"/><circle cx="443.3" cy="466.0" r="6.7" fill="#162AAA" fill-opacity="0.9"/><circle cx="455.8" cy="472.3" r="6.7" fill="#162AAA" fill-opacity="0.9"/><circle cx="465.8" cy="466.0" r="6.0" fill="#162AAA" fill-opacity="0.9"/><circle cx="479.5" cy="464.8" r="6.0" fill="#162AAA" fill-opacity="0.9"/><circle cx="487.0" cy="469.8" r="6.0" fill="#162AAA" fill-opacity="0.9"/><circle cx="468.3" cy="476.0" r="6.0" fill="#162AAA" fill-opacity="0.9"/><circle cx="484.5" cy="481.0" r="6.0" fill="#162AAA" fill-opacity="0.9"/><circle cx="480.8" cy="491.0" r="6.0" fill="#162AAA" fill-opacity="0.9"/><circle cx="470.8" cy="486.0" r="6.0" fill="#162AAA" fill-opacity="0.9"/><circle cx="458.3" cy="482.3" r="6.0" fill="#162AAA" fill-opacity="0.9"/><circle cx="447.0" cy="481.0" r="6.0" fill="#162AAA" fill-opacity="0.9"/><circle cx="439.5" cy="474.8" r="6.0" fill="#162AAA" fill-opacity="0.9"/><circle cx="452.0" cy="487.3" r="6.0" fill="#162AAA" fill-opacity="0.9"/><circle cx="443.3" cy="486.0" r="6.0" fill="#162AAA" fill-opacity="0.9"/><circle cx="434.5" cy="489.8" r="6.0" fill="#162AAA" fill-opacity="0.9"/><circle cx="440.8" cy="496.0" r="6.0" fill="#162AAA" fill-opacity="0.9"/><circle cx="450.8" cy="492.9" r="4.7" fill="#1A34EE" fill-opacity="0.9"/><circle cx="457.0" cy="494.0" r="4.7" fill="#1A34EE" fill-opacity="0.9"/><circle cx="455.0" cy="462.0" r="6.0" fill="#162AAA" fill-opacity="0.9"/><circle cx="490.0" cy="480.0" r="4.9" fill="#162AAA" fill-opacity="0.9"/><circle cx="433.0" cy="470.0" r="4.9" fill="#122380" fill-opacity="0.9"/><circle cx="299.2" cy="510.1" r="6.7" fill="#1A34EE" fill-opacity="0.9"/><circle cx="309.0" cy="508.7" r="6.2" fill="#1A34EE" fill-opacity="0.9"/><circle cx="316.5" cy="509.2" r="7.6" fill="#1A34EE" fill-opacity="0.9"/><circle cx="325.9" cy="510.1" r="6.8" fill="#122380" fill-opacity="0.9"/><circle cx="333.6" cy="509.0" r="7.5" fill="#1A34EE" fill-opacity="0.9"/><circle cx="343.7" cy="510.5" r="6.3" fill="#162AAA" fill-opacity="0.9"/><circle cx="351.0" cy="508.6" r="7.4" fill="#1A34EE" fill-opacity="0.9"/><circle cx="304.0" cy="519.4" r="6.8" fill="#1A34EE" fill-opacity="0.9"/><circle cx="314.3" cy="517.4" r="6.7" fill="#162AAA" fill-opacity="0.9"/><circle cx="320.4" cy="517.7" r="7.5" fill="#1A34EE" fill-opacity="0.9"/><circle cx="330.9" cy="519.6" r="6.8" fill="#1A34EE" fill-opacity="0.9"/><circle cx="338.9" cy="518.6" r="6.8" fill="#122380" fill-opacity="0.9"/><circle cx="348.5" cy="519.0" r="7.5" fill="#122380" fill-opacity="0.9"/><circle cx="357.4" cy="519.0" r="6.4" fill="#122380" fill-opacity="0.9"/><circle cx="300.2" cy="527.6" r="6.5" fill="#122380" fill-opacity="0.9"/><circle cx="308.0" cy="525.7" r="7.4" fill="#1A34EE" fill-opacity="0.9"/><circle cx="316.0" cy="527.9" r="6.8" fill="#122380" fill-opacity="0.9"/><circle cx="324.4" cy="526.8" r="6.8" fill="#162AAA" fill-opacity="0.9"/><circle cx="333.0" cy="527.3" r="6.3" fill="#122380" fill-opacity="0.9"/><circle cx="343.2" cy="528.3" r="6.6" fill="#122380" fill-opacity="0.9"/><circle cx="353.1" cy="526.4" r="6.3" fill="#162AAA" fill-opacity="0.9"/><circle cx="313.5" cy="536.9" r="6.7" fill="#122380" fill-opacity="0.9"/><circle cx="322.9" cy="536.7" r="6.7" fill="#1A34EE" fill-opacity="0.9"/><circle cx="331.2" cy="535.2" r="7.4" fill="#162AAA" fill-opacity="0.9"/><circle cx="339.1" cy="536.8" r="6.9" fill="#1A34EE" fill-opacity="0.9"/><circle cx="347.7" cy="536.1" r="7.5" fill="#1A34EE" fill-opacity="0.9"/><circle cx="357.3" cy="535.6" r="7.0" fill="#162AAA" fill-opacity="0.9"/><circle cx="317.6" cy="543.5" r="6.7" fill="#122380" fill-opacity="0.9"/><circle cx="326.1" cy="543.3" r="6.9" fill="#162AAA" fill-opacity="0.9"/><circle cx="335.8" cy="542.6" r="6.7" fill="#1A34EE" fill-opacity="0.9"/><circle cx="342.4" cy="544.3" r="6.5" fill="#122380" fill-opacity="0.9"/><circle cx="351.0" cy="543.6" r="7.0" fill="#122380" fill-opacity="0.9"/><circle cx="313.5" cy="550.9" r="6.9" fill="#122380" fill-opacity="0.9"/><circle cx="320.7" cy="551.1" r="6.8" fill="#162AAA" fill-opacity="0.9"/><circle cx="328.9" cy="551.5" r="6.7" fill="#122380" fill-opacity="0.9"/><circle cx="338.5" cy="553.1" r="6.5" fill="#122380" fill-opacity="0.9"/><circle cx="348.0" cy="551.2" r="7.0" fill="#122380" fill-opacity="0.9"/><circle cx="355.1" cy="550.9" r="6.9" fill="#122380" fill-opacity="0.9"/><circle cx="312.0" cy="549.5" r="5.1" fill="#1A34EE" fill-opacity="0.9"/><circle cx="337.0" cy="550.0" r="4.7" fill="#1A34EE" fill-opacity="0.9"/><circle cx="339.5" cy="534.0" r="4.7" fill="#1A34EE" fill-opacity="0.9"/><circle cx="345.8" cy="535.0" r="4.7" fill="#1A34EE" fill-opacity="0.9"/><circle cx="364.2" cy="511.1" r="6.7" fill="#162AAA" fill-opacity="0.9"/><circle cx="373.5" cy="509.5" r="6.4" fill="#122380" fill-opacity="0.9"/><circle cx="381.3" cy="511.0" r="6.8" fill="#1A34EE" fill-opacity="0.9"/><circle cx="389.2" cy="510.2" r="6.3" fill="#1A34EE" fill-opacity="0.9"/><circle cx="397.4" cy="508.5" r="7.5" fill="#1A34EE" fill-opacity="0.9"/><circle cx="407.2" cy="511.5" r="7.2" fill="#162AAA" fill-opacity="0.9"/><circle cx="416.3" cy="511.0" r="7.1" fill="#122380" fill-opacity="0.9"/><circle cx="424.3" cy="511.2" r="7.4" fill="#122380" fill-opacity="0.9"/><circle cx="367.2" cy="517.7" r="6.3" fill="#122380" fill-opacity="0.9"/><circle cx="378.1" cy="519.7" r="7.0" fill="#162AAA" fill-opacity="0.9"/><circle cx="385.4" cy="517.4" r="6.9" fill="#122380" fill-opacity="0.9"/><circle cx="394.6" cy="518.6" r="6.8" fill="#162AAA" fill-opacity="0.9"/><circle cx="402.2" cy="517.8" r="7.4" fill="#1A34EE" fill-opacity="0.9"/><circle cx="412.2" cy="517.2" r="6.5" fill="#162AAA" fill-opacity="0.9"/><circle cx="420.0" cy="519.5" r="6.5" fill="#122380" fill-opacity="0.9"/><circle cx="365.0" cy="525.5" r="7.1" fill="#1A34EE" fill-opacity="0.9"/><circle cx="371.2" cy="526.3" r="6.6" fill="#1A34EE" fill-opacity="0.9"/><circle cx="379.9" cy="526.5" r="7.3" fill="#162AAA" fill-opacity="0.9"/><circle cx="390.6" cy="525.6" r="6.3" fill="#1A34EE" fill-opacity="0.9"/><circle cx="399.8" cy="528.1" r="6.3" fill="#1A34EE" fill-opacity="0.9"/><circle cx="406.4" cy="526.4" r="6.7" fill="#1A34EE" fill-opacity="0.9"/><circle cx="367.2" cy="535.7" r="7.2" fill="#1A34EE" fill-opacity="0.9"/><circle cx="377.8" cy="535.7" r="6.3" fill="#1A34EE" fill-opacity="0.9"/><circle cx="385.8" cy="536.3" r="6.7" fill="#162AAA" fill-opacity="0.9"/><circle cx="394.5" cy="535.3" r="6.7" fill="#1A34EE" fill-opacity="0.9"/><circle cx="403.5" cy="534.9" r="7.5" fill="#1A34EE" fill-opacity="0.9"/><circle cx="411.2" cy="534.7" r="6.9" fill="#162AAA" fill-opacity="0.9"/><circle cx="363.5" cy="545.4" r="7.0" fill="#122380" fill-opacity="0.9"/><circle cx="371.5" cy="544.6" r="7.5" fill="#1A34EE" fill-opacity="0.9"/><circle cx="381.7" cy="544.7" r="7.0" fill="#162AAA" fill-opacity="0.9"/><circle cx="390.7" cy="544.6" r="6.9" fill="#122380" fill-opacity="0.9"/><circle cx="399.2" cy="542.6" r="6.3" fill="#162AAA" fill-opacity="0.9"/><circle cx="407.5" cy="543.6" r="7.3" fill="#122380" fill-opacity="0.9"/><circle cx="416.6" cy="542.9" r="7.4" fill="#1A34EE" fill-opacity="0.9"/><circle cx="425.2" cy="545.4" r="7.0" fill="#162AAA" fill-opacity="0.9"/><circle cx="414.5" cy="545.8" r="7.1" fill="#1A34EE" fill-opacity="0.9"/><circle cx="397.0" cy="548.3" r="4.9" fill="#1A34EE" fill-opacity="0.9"/><circle cx="416.0" cy="549.0" r="8.2" fill="#1A34EE" fill-opacity="0.9"/><circle cx="432.0" cy="515.8" r="8.1" fill="#162AAA" fill-opacity="0.9"/><circle cx="428.3" cy="527.0" r="6.0" fill="#162AAA" fill-opacity="0.9"/><circle cx="443.3" cy="508.3" r="6.7" fill="#162AAA" fill-opacity="0.9"/><circle cx="453.3" cy="512.0" r="6.7" fill="#162AAA" fill-opacity="0.9"/><circle cx="464.5" cy="510.8" r="6.7" fill="#162AAA" fill-opacity="0.9"/><circle cx="466.4" cy="520.0" r="4.7" fill="#1A34EE" fill-opacity="0.9"/><circle cx="458.9" cy="525.8" r="6.0" fill="#162AAA" fill-opacity="0.9"/><circle cx="468.3" cy="528.9" r="6.0" fill="#162AAA" fill-opacity="0.9"/><circle cx="447.0" cy="540.0" r="6.7" fill="#162AAA" fill-opacity="0.9"/><circle cx="475.1" cy="541.4" r="5.8" fill="#162AAA" fill-opacity="0.9"/><circle cx="488.3" cy="523.9" r="6.7" fill="#162AAA" fill-opacity="0.9"/><circle cx="480.8" cy="550.0" r="6.0" fill="#162AAA" fill-opacity="0.9"/><circle cx="427.6" cy="545.8" r="4.9" fill="#162AAA" fill-opacity="0.9"/><circle cx="318.3" cy="561.1" r="5.3" fill="#1A34EE" fill-opacity="0.9"/><circle cx="328.3" cy="563.0" r="5.6" fill="#1A34EE" fill-opacity="0.9"/><circle cx="322.6" cy="571.8" r="5.8" fill="#1A34EE" fill-opacity="0.9"/><circle cx="312.3" cy="550.0" r="4.9" fill="#1A34EE" fill-opacity="0.9"/><circle cx="350.8" cy="569.3" r="5.3" fill="#1A34EE" fill-opacity="0.9"/><circle cx="359.5" cy="566.8" r="6.0" fill="#162AAA" fill-opacity="0.9"/><circle cx="347.0" cy="554.3" r="6.0" fill="#162AAA" fill-opacity="0.9"/><circle cx="297.5" cy="563.0" r="3.2" fill="#162AAA" fill-opacity="0.9"/><circle cx="378.3" cy="564.9" r="6.7" fill="#162AAA" fill-opacity="0.9"/><circle cx="380.8" cy="581.8" r="6.0" fill="#162AAA" fill-opacity="0.9"/><circle cx="395.1" cy="584.3" r="6.0" fill="#162AAA" fill-opacity="0.9"/><circle cx="404.5" cy="593.0" r="5.3" fill="#1A34EE" fill-opacity="0.9"/><circle cx="413.3" cy="586.1" r="4.9" fill="#162AAA" fill-opacity="0.9"/><circle cx="419.5" cy="581.8" r="4.3" fill="#162AAA" fill-opacity="0.9"/><circle cx="365.8" cy="576.8" r="4.9" fill="#162AAA" fill-opacity="0.9"/><circle cx="363.9" cy="569.3" r="4.9" fill="#162AAA" fill-opacity="0.9"/><circle cx="363.3" cy="562.4" r="4.9" fill="#162AAA" fill-opacity="0.9"/><circle cx="380.8" cy="555.5" r="7.1" fill="#162AAA" fill-opacity="0.9"/><circle cx="393.0" cy="558.0" r="7.1" fill="#162AAA" fill-opacity="0.9"/><circle cx="415.8" cy="556.8" r="8.8" fill="#1A34EE" fill-opacity="0.9"/><circle cx="399.5" cy="568.0" r="6.0" fill="#162AAA" fill-opacity="0.9"/><circle cx="409.5" cy="571.8" r="6.0" fill="#162AAA" fill-opacity="0.9"/><circle cx="419.5" cy="571.8" r="6.0" fill="#162AAA" fill-opacity="0.9"/><circle cx="418.3" cy="563.0" r="6.7" fill="#1A34EE" fill-opacity="0.9"/><circle cx="405.0" cy="560.0" r="6.0" fill="#162AAA" fill-opacity="0.9"/><circle cx="440.1" cy="564.3" r="4.3" fill="#1A34EE" fill-opacity="0.9"/><circle cx="472.0" cy="556.1" r="4.3" fill="#1A34EE" fill-opacity="0.9"/><circle cx="478.3" cy="558.0" r="4.0" fill="#1A34EE" fill-opacity="0.9"/><circle cx="475.8" cy="566.8" r="6.0" fill="#162AAA" fill-opacity="0.9"/><circle cx="488.9" cy="559.9" r="6.0" fill="#162AAA" fill-opacity="0.9"/><circle cx="490.1" cy="576.8" r="4.7" fill="#162AAA" fill-opacity="0.9"/><circle cx="454.5" cy="593.0" r="8.8" fill="#122380" fill-opacity="0.9"/><circle cx="474.5" cy="585.5" r="6.0" fill="#122380" fill-opacity="0.9"/><circle cx="447.0" cy="590.5" r="7.1" fill="#122380" fill-opacity="0.9"/><circle cx="427.6" cy="556.0" r="6.0" fill="#162AAA" fill-opacity="0.9"/><circle cx="333.3" cy="527" r="3.0" fill="#072C37" fill-opacity="0.7"/><circle cx="302" cy="540" r="4" fill="#072C37" fill-opacity="0.7"/><circle cx="308" cy="543" r="3.5" fill="#072C37" fill-opacity="0.7"/><circle cx="301" cy="535" r="2.5" fill="#072C37" fill-opacity="0.7"/><circle cx="420.8" cy="510.8" r="2.6" fill="#072C37" fill-opacity="0.7"/><circle cx="424.5" cy="532" r="2.8" fill="#072C37" fill-opacity="0.7"/><circle cx="345.1" cy="564.9" r="7.6" fill="#2E9E40" fill-opacity="0.85"/><circle cx="350.8" cy="569.3" r="4.2" fill="#2050E8"/><circle cx="387" cy="572.4" r="5" fill="#2A9A3A" fill-opacity="0.6"/><circle cx="387" cy="571.8" r="3.2" fill="#30C8B0"/><circle cx="403.9" cy="520.3" r="6.6" fill="#2A9A3C" fill-opacity="0.95"/><circle cx="403.6" cy="522.8" r="2.6" fill="#2A58D8"/><circle cx="456" cy="499.5" r="4" fill="#1E7A40" fill-opacity="0.6"/></g><g filter="url(#fb2)"><circle cx="420.8" cy="477.3" r="1.6" fill="#30A050" fill-opacity="0.6"/><circle cx="400.1" cy="489" r="1.2" fill="#30A050" fill-opacity="0.6"/><circle cx="422" cy="497.9" r="1.0" fill="#30A050" fill-opacity="0.6"/><circle cx="457" cy="499.8" r="1.0" fill="#30A050" fill-opacity="0.6"/><circle cx="460.8" cy="502.8" r="0.9" fill="#30A050" fill-opacity="0.6"/><circle cx="453.3" cy="498.5" r="0.9" fill="#30A050" fill-opacity="0.6"/><circle cx="449" cy="503" r="0.8" fill="#30A050" fill-opacity="0.6"/><circle cx="342" cy="562" r="0.8" fill="#40C060" fill-opacity="0.8"/><circle cx="345" cy="566" r="0.8" fill="#40C060" fill-opacity="0.8"/><circle cx="348" cy="561" r="0.8" fill="#40C060" fill-opacity="0.8"/><circle cx="341" cy="567" r="0.8" fill="#40C060" fill-opacity="0.8"/><circle cx="344" cy="569" r="0.8" fill="#40C060" fill-opacity="0.8"/><circle cx="347" cy="564" r="0.8" fill="#40C060" fill-opacity="0.8"/><circle cx="400" cy="518" r="0.8" fill="#40C060" fill-opacity="0.8"/><circle cx="405" cy="517" r="0.8" fill="#40C060" fill-opacity="0.8"/><circle cx="407" cy="521" r="0.8" fill="#40C060" fill-opacity="0.8"/><circle cx="401" cy="522" r="0.8" fill="#40C060" fill-opacity="0.8"/></g></g><g stroke="#E8E8E8" stroke-width="1.4"><line x1="438.3" y1="578.3" x2="475.8" y2="578.3"/><line x1="438.5" y1="577" x2="438.5" y2="579.6" stroke-width="1"/><line x1="475.6" y1="577" x2="475.6" y2="579.6" stroke-width="1"/></g><text x="457.3" y="589.2" font-size="10" text-anchor="middle" fill="#EDEDED">50µm</text></g></svg>
<div class="frame"></div><div class="frame2"></div>
</body></html>
